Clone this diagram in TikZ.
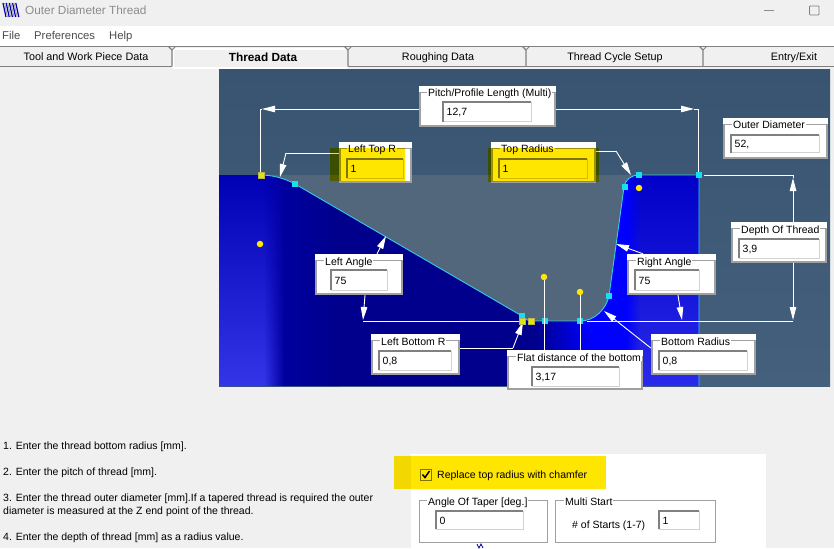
\documentclass[tikz,border=0pt]{standalone}
\usepackage{fontspec}
\setmainfont{Liberation Sans}
\usetikzlibrary{arrows.meta,fit,fadings,calc}
\definecolor{winbg}{HTML}{F0F0F0}
\definecolor{skytop}{HTML}{395470}
\definecolor{skybot}{HTML}{44607C}
\definecolor{gapc}{HTML}{52677C}
\definecolor{cyanline}{HTML}{35CDE8}
\definecolor{cyanpt}{HTML}{14E0F0}
\definecolor{grp}{HTML}{A0A0A0}
\definecolor{tabline}{HTML}{808080}
\definecolor{hl}{HTML}{FFE600}
\definecolor{bluedeep}{HTML}{00008C}
\definecolor{blueleft}{HTML}{0000B4}
\definecolor{bluemid}{HTML}{0000C4}
\definecolor{bluelow}{HTML}{3535E8}
\definecolor{bluepure}{HTML}{0000FF}
\definecolor{bluetooth}{HTML}{0000C8}
\definecolor{bluebotr}{HTML}{2A2AEA}
\tikzfading[name=fadeR,left color=transparent!0,right color=transparent!100]
\tikzfading[name=fadeL,left color=transparent!100,right color=transparent!0]
\tikzset{
  x=1pt,y=-1pt,
  ui/.style={font=\fontsize{10.5}{12}\selectfont,inner sep=0,text=black,text height=8pt,text depth=0pt},
  panelbox/.style={fill=white,inner sep=0},
  wire/.style={draw=white,line width=0.9pt},
  tipped/.style={draw=white,line width=0.9pt,-{Triangle[length=13pt,width=6.5pt]}},
  cy/.style={fill=cyanpt,minimum size=6pt,inner sep=0},
  yl/.style={fill=yellow!85!green,minimum size=5.5pt,inner sep=0,draw=olive!60,line width=.2pt},
  ydot/.style={circle,fill=yellow!90!orange,minimum size=6.5pt,inner sep=0},
  hilite/.style={fill=hl,blend mode=multiply},
  tabtext/.style={ui,font=\fontsize{10.8}{12}\selectfont},
  menutext/.style={ui,text=black!70,font=\fontsize{11.3}{12}\selectfont},
}
\newcommand{\GrpBox}[7]{%
  \coordinate (#1-a) at (#2,#3);\coordinate (#1-b) at (#4,#5);
  \node[panelbox,fit=(#1-a)(#1-b)] (#1) {};
  \draw[grp,line width=1.2pt] (#2+1,#3+6.5) rectangle (#4-1,#5-1);
  \node[ui,anchor=west,fill=white,inner xsep=1pt] (#1-l) at (#7-1,#3+7) {#6};}
\newcommand{\PlainGrp}[6]{%
  \coordinate (#1-a) at (#2,#3);\coordinate (#1-b) at (#4,#5);
  \node[inner sep=0,fit=(#1-a)(#1-b)] (#1) {};
  \draw[grp,line width=1.1pt] (#1.north west) rectangle (#1.south east);}
\newcommand{\InBox}[6]{%
  \fill[white] (#2,#3) rectangle (#4,#5);
  \draw[black!18,line width=1pt] (#2,#5) -- (#4,#5) -- (#4,#3);
  \draw[black!50,line width=1.5pt] (#2,#5) -- (#2,#3) -- (#4,#3);
  \node[ui,anchor=west] (#1) at (#2+3.5,{(#3+#5)/2}) {#6};}
\begin{document}
\begin{tikzpicture}
\useasboundingbox (0,0) rectangle (834,548);
\fill[winbg] (0,0) rectangle (834,548);
% menu bar
\fill[white] (0,26) rectangle (834,46);
% title
\foreach \i in {0,...,4}{\draw[blue!70!black,line width=1.2pt] (3+\i*3.2,3) -- (6+\i*3.2,17);}
\foreach \i in {0,...,3}{\draw[black!35,line width=.9pt] (4.5+\i*3.2,3) -- (7.5+\i*3.2,17);}
\node[ui,anchor=west,text=black!45,font=\fontsize{11.8}{13}\selectfont] (title) at (25,11) {Outer Diameter Thread};
\draw[black!45,line width=.8pt] (764,10.5) -- (774,10.5);
\draw[black!50,line width=.8pt,rounded corners=.8pt] (809.5,6) rectangle (819,15);
\node[menutext,anchor=west] (mfile) at (2,36) {File};
\node[menutext,anchor=west] (mpref) at (34,36) {Preferences};
\node[menutext,anchor=west] (mhelp) at (109,36) {Help};
% tabs
\draw[tabline,line width=1pt] (0,46.5) -- (834,46.5);
\draw[tabline,line width=1pt] (0,66.5) -- (172,66.5);
\draw[tabline,line width=1pt] (348,66.5) -- (834,66.5);
\draw[white,line width=1.2pt] (175,49) -- (347,49);
\draw[white,line width=1.5pt] (173.5,67.5) -- (173.5,48);
\foreach \tx in {172,348,526,703}{
  \draw[tabline,line width=1.1pt] (\tx,66.5) -- (\tx,50) -- (\tx-3.5,46.5);
  \draw[tabline,line width=1pt] (\tx,50) -- (\tx+3.5,46.5);}
\fill[white] (172.7,67) rectangle (348,69);
\node[tabtext] (t1) at (86,57) {Tool and Work Piece Data};
\node[tabtext,font=\fontsize{11.8}{12}\selectfont\bfseries] (t2) at (263,58) {Thread Data};
\node[tabtext] (t3) at (438,57) {Roughing Data};
\node[tabtext] (t4) at (615,57) {Thread Cycle Setup};
\node[tabtext] (t5) at (794,57) {Entry/Exit};
% drawing area
\shade[top color=skytop,bottom color=skybot] (219,70) rectangle (830,386);
\fill[gapc] (219,175) rectangle (699,386);
\begin{scope}
  \clip (219,175) -- (260,175) .. controls (272,175) and (284,178) .. (295,184)
     -- (522,316) .. controls (525,319) and (528,321) .. (532,321) -- (580,321)
     .. controls (595,321) and (606,309) .. (609,296) -- (624,187)
     .. controls (625,180) and (631,175) .. (639,175) -- (699,175) -- (699,386) -- (219,386) -- cycle;
  \shade[left color=blueleft,right color=bluedeep] (219,175) rectangle (340,386);
  \fill[bluedeep] (340,175) rectangle (535,386);
  \shade[left color=bluedeep,right color=bluepure] (535,175) rectangle (590,386);
  \fill[bluepure] (590,175) rectangle (640,386);
  % lighter lower-left zone
  \shade[top color=blueleft,middle color=bluemid,bottom color=bluelow] (219,175) rectangle (264,386);
  \shade[top color=blueleft,middle color=bluemid,bottom color=bluelow,path fading=fadeR] (264,175) rectangle (284,386);
  % darker / paler right zone
  \shade[top color=bluetooth,middle color=bluepure!88!black,bottom color=bluebotr] (640,175) rectangle (699,386);
  \shade[top color=bluetooth,middle color=bluepure!88!black,bottom color=bluebotr,path fading=fadeL] (626,175) rectangle (640,386);
\end{scope}
\draw[cyanline,line width=.9pt] (260,175) .. controls (272,175) and (284,178) .. (295,184)
     -- (522,316) .. controls (525,319) and (528,321) .. (532,321) -- (580,321)
     .. controls (595,321) and (606,309) .. (609,296) -- (624,187)
     .. controls (625,180) and (631,175) .. (639,175) -- (699,175) -- (699,386);
% anchors
\coordinate (pltip) at (262,109);\coordinate (plc) at (260,109);\coordinate (plend) at (260,175);
\coordinate (prtip) at (694,109);\coordinate (prc) at (698,109);\coordinate (prend) at (698,175);
\coordinate (ltc) at (286,153);\coordinate (lttip) at (280,177);
\coordinate (trc) at (616,151);\coordinate (trtip) at (631,175);
\coordinate (dts) at (704,175);\coordinate (dtc) at (793,175);\coordinate (dttip) at (793,178);\coordinate (dtb) at (793,191);
\coordinate (dbtip) at (793,320);\coordinate (base1) at (793,321);\coordinate (base2) at (587,321);
\coordinate (latip) at (386,236);\coordinate (las) at (377,254);
\coordinate (lbs) at (365,295);\coordinate (lbtip) at (363,320);\coordinate (lbc) at (363,321);\coordinate (lbe) at (520,321);
\coordinate (ras) at (643,254);\coordinate (ratip) at (616,244);
\coordinate (rbs) at (678,295);\coordinate (rbtip) at (682,320);
\coordinate (lbrc) at (513,348);\coordinate (lbrtip) at (523,322);
\coordinate (brc) at (651,348);\coordinate (brtip) at (604,311);
\node[ydot] (d1) at (260,244) {};
\node[ydot] (d2) at (544,277) {};
\node[ydot] (d3) at (580,292) {};
\node[ydot] (d4) at (639,188) {};
% boxes
\GrpBox{pitch}{419}{86}{556}{127}{Pitch/Profile Length (Multi)}{428}
\InBox{pitchv}{443}{102}{531}{122}{12,7}
\GrpBox{outer}{723}{118}{828}{159}{Outer Diameter}{733}
\InBox{outerv}{731}{135}{819}{153}{52,}
\GrpBox{ltop}{339}{142}{412}{183}{Left Top R}{348}
\InBox{ltopv}{347}{159}{403}{178}{1}
\GrpBox{trad}{491}{142}{596}{183}{Top Radius}{501}
\InBox{tradv}{499}{159}{587}{178}{1}
\GrpBox{depth}{731}{222}{827}{263}{Depth Of Thread}{741}
\InBox{depthv}{739}{239}{819}{258}{3,9}
\GrpBox{lang}{315}{254}{403}{295}{Left Angle}{325}
\InBox{langv}{331}{270}{387}{290}{75}
\GrpBox{rang}{627}{254}{716}{295}{Right Angle}{637}
\InBox{rangv}{635}{270}{699}{290}{75}
\GrpBox{lbr}{371}{334}{460}{375}{Left Bottom R}{381}
\InBox{lbrv}{379}{351}{451}{370}{0,8}
\GrpBox{brad}{651}{334}{756}{375}{Bottom Radius}{661}
\InBox{bradv}{659}{351}{747}{370}{0,8}
% connectors
\draw[tipped] (pitch.west |- pltip) -- (pltip);
\draw[wire] (pltip) -- (plc) -- (plend);
\draw[tipped] (pitch.east |- prtip) -- (prtip);
\draw[wire] (prtip) -- (prc) -- (prend);
\draw[wire] (ltop.west |- ltc) -- (ltc);
\draw[tipped] (ltc) -- (lttip);
\draw[wire] (trad.east |- trc) -- (trc);
\draw[tipped] (trc) -- (trtip);
\draw[wire] (dts) -- (dtc) -- (dttip);
\draw[tipped] (dtb) -- (dttip);
\draw[wire] (dtb) -- (depth.north -| dtb);
\draw[tipped] (depth.south -| dbtip) -- (dbtip);
\draw[wire] (base1) -- (base2);
\draw[tipped] (lang.north -| las) -- (latip);
\draw[tipped] (lang.south -| lbs) -- (lbtip);
\draw[wire] (lbc) -- (lbe);
\draw[tipped] (rang.north -| ras) -- (ratip);
\draw[tipped] (rang.south -| rbs) -- (rbtip);
\draw[wire] (lbr.east |- lbrc) -- (lbrc);
\draw[tipped] (lbrc) -- (lbrtip);
\draw[tipped] (brad.west |- brc) -- (brtip);
\node[cy] (p1) at (295,184) {};
\node[cy] (p2) at (522,316) {};
\node[yl] (p3) at (522,321) {};
\node[yl] (p4) at (531,321) {};
\node[cy] (p5) at (545,321) {};
\node[cy] (p6) at (580,321) {};
\node[cy] (p7) at (609,296) {};
\node[cy] (p8) at (625,187) {};
\node[cy] (p9) at (639,175) {};
\node[cy] (p10) at (699,175) {};
\node[yl] (p11) at (261,175) {};
% flat box drawn last (overlaps)
\GrpBox{flat}{507}{350}{643}{390}{Flat distance of the bottom}{517}
\InBox{flatv}{532}{367}{619}{386}{3,17}
\draw[wire] (d2) -- (d2 |- flat.north);
\draw[wire] (d3) -- (d3 |- flat.north);
% instructions
\node[ui,anchor=west] (i1) at (3,445) {1. Enter the thread bottom radius [mm].};
\node[ui,anchor=west] (i2) at (3,471) {2. Enter the pitch of thread [mm].};
\node[ui,anchor=west] (i3) at (3,497) {3. Enter the thread outer diameter [mm].If a tapered thread is required the outer};
\node[ui,anchor=west] (i3b) at (3,510) {diameter is measured at the Z end point of the thread.};
\node[ui,anchor=west] (i4) at (3,536) {4. Enter the depth of thread [mm] as a radius value.};
% lower panel
\fill[white] (411,454) rectangle (766,548);
\draw[black!50,line width=1pt] (420.5,469.5) rectangle (431,480);
\draw[black,line width=1.5pt] (422.5,474.5) -- (425,477.5) -- (429.5,471);
\node[ui,anchor=west] (chk) at (437,474) {Replace top radius with chamfer};
\PlainGrp{taper}{419.5}{501}{547}{542}{}
\node[ui,anchor=west,fill=white,inner xsep=1pt] (taperl) at (427,501) {Angle Of Taper [deg.]};
\InBox{taperv}{436}{511}{523}{529}{0}
\PlainGrp{multi}{555.5}{501}{715}{542}{}
\node[ui,anchor=west,fill=white,inner xsep=1pt] (multil) at (564,501) {Multi Start};
\InBox{multiv}{659}{511}{699}{529}{1}
\node[ui,anchor=west] (starts) at (572,524) {\# of Starts (1-7)};
\draw[blue!60!black,line width=.7pt] (477,544) -- (479,548) -- (481,544) -- (483,548);
% highlights
\fill[hilite] (330,148) rectangle (405,181);
\fill[hilite] (488,148) rectangle (599,182);
\fill[hilite] (394,456) rectangle (606,489);
\end{tikzpicture}
\end{document}
